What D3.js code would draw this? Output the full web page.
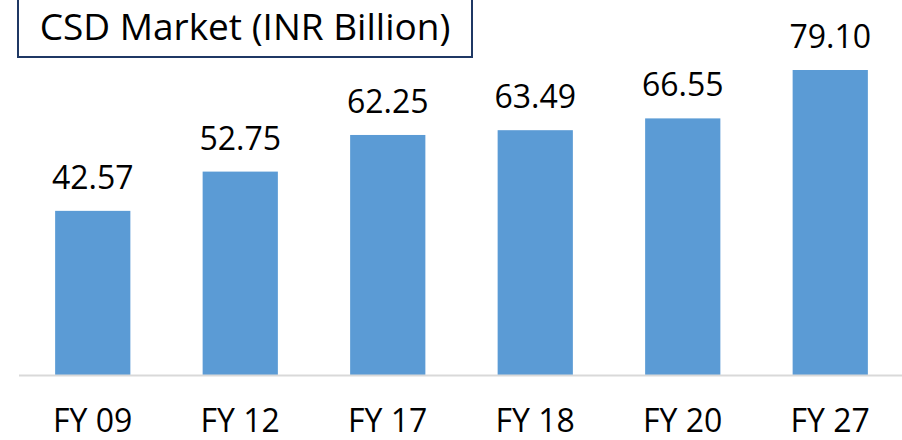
<!DOCTYPE html>
<html>
<head>
<meta charset="utf-8">
<script src="https://cdn.jsdelivr.net/npm/d3@7"></script>
<style>
  body { margin: 0; background: #fff; }
  svg { display: block; font-family: "Open Sans", sans-serif; }
</style>
</head>
<body>
<div id="chart"></div>
<script>
// chart data
const title = "CSD Market (INR Billion)";
const categories = ["FY 09", "FY 12", "FY 17", "FY 18", "FY 20", "FY 27"];
const values = [42.57, 52.75, 62.25, 63.49, 66.55, 79.10];

const width = 902, height = 440;
const baseline = 375;

const svg = d3.select("#chart")
    .append("svg")
    .attr("width", width)
    .attr("height", height);

// x: band scale, bars centred in each band
const x = d3.scaleBand()
    .domain(categories)
    .range([19, 904])
    .paddingInner(0.49)
    .paddingOuter(0.245);

// y: linear from zero at the baseline
const y = d3.scaleLinear()
    .domain([0, 79.10])
    .range([baseline, 70]);

// bars
svg.append("g")
    .selectAll("rect")
    .data(values)
    .enter()
    .append("rect")
    .attr("x", (d, i) => x(categories[i]))
    .attr("y", d => y(d))
    .attr("width", x.bandwidth())
    .attr("height", d => y(0) - y(d))
    .attr("fill", "#5B9BD5");

// axis line
svg.append("line")
    .attr("x1", 19)
    .attr("x2", width)
    .attr("y1", baseline + 0.5)
    .attr("y2", baseline + 0.5)
    .attr("stroke", "#d9d9d9")
    .attr("stroke-width", 2);

// value labels
svg.append("g")
    .selectAll("text")
    .data(values)
    .enter()
    .append("text")
    .attr("x", (d, i) => x(categories[i]) + x.bandwidth() / 2)
    .attr("y", d => y(d) - 22)
    .attr("text-anchor", "middle")
    .attr("font-size", 32)
    .attr("fill", "#000")
    .text(d => d.toFixed(2));

// category labels
const xAxis = d3.axisBottom(x).tickSize(0).tickPadding(0);
const gx = svg.append("g")
    .attr("transform", `translate(0,${baseline})`)
    .call(xAxis);
gx.select(".domain").remove();
gx.selectAll("text")
    .attr("font-family", "Open Sans, sans-serif")
    .attr("font-size", 32)
    .attr("fill", "#000")
    .attr("dy", null)
    .attr("y", 57);

// title box
svg.append("rect")
    .attr("x", 18)
    .attr("y", -4)
    .attr("width", 454)
    .attr("height", 61)
    .attr("fill", "#fff")
    .attr("stroke", "#1F3864")
    .attr("stroke-width", 2);

svg.append("text")
    .attr("x", 245)
    .attr("y", 40)
    .attr("text-anchor", "middle")
    .attr("font-size", 37)
    .attr("fill", "#000")
    .text(title);
</script>
</body>
</html>
